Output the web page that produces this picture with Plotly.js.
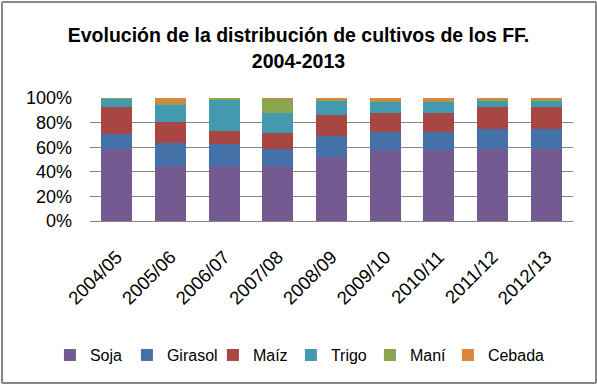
<!DOCTYPE html>
<html><head><meta charset="utf-8">
<script src="https://cdn.plot.ly/plotly-3.0.1.min.js"></script>
<style>
html,body{margin:0;padding:0;background:#fff;}
#wrap{position:relative;width:597px;height:385px;}
#chart{width:597px;height:385px;}
#frame{position:absolute;left:1px;top:1px;width:592px;height:379px;border:2px solid #868686;border-radius:2px;pointer-events:none;}
</style></head>
<body>
<div id="wrap"><div id="chart"></div><div id="frame"></div></div>
<script>
const categories = ["2004/05","2005/06","2006/07","2007/08","2008/09","2009/10","2010/11","2011/12","2012/13"];
const soja    = [58.9, 45.1, 45.1, 45.1, 51.7, 58.1, 58.1, 58.9, 58.9];
const girasol = [11.9, 18.6, 17.8, 13.8, 17.5, 14.0, 14.0, 15.9, 15.9];
const maiz    = [21.5, 16.4, 10.3, 12.7, 16.7, 15.4, 15.4, 17.5, 17.5];
const trigo   = [ 6.6, 14.6, 25.5, 15.9, 11.7,  9.6,  9.6,  5.3,  5.3];
const mani    = [ 1.1,  1.1,  1.3, 11.4,  1.1,  0.4,  0.4,  0.4,  0.4];
const cebada  = [ 0.0,  4.2,  0.0,  1.1,  1.3,  2.5,  2.5,  2.0,  2.0];
const yTicks  = [0, 20, 40, 60, 80, 100];

const series = [
  {name:"Soja", y:soja, color:"#735B91", lw:32},
  {name:"Girasol", y:girasol, color:"#4472A8", lw:41},
  {name:"Maíz", y:maiz, color:"#A84644", lw:33},
  {name:"Trigo", y:trigo, color:"#4299B0", lw:34},
  {name:"Maní", y:mani, color:"#89A54E", lw:33},
  {name:"Cebada", y:cebada, color:"#DB843D", lw:60}
];
const data = series.map(s => ({
  type:"bar", name:s.name, x:categories, y:s.y, legendwidth:s.lw,
  marker:{color:s.color, line:{width:0}}, hoverinfo:"none"
}));
const font = "Liberation Sans, Arial, sans-serif";
const layout = {
  width:597, height:385, barmode:"stack", bargap:0.42,
  paper_bgcolor:"#fff", plot_bgcolor:"#fff",
  margin:{l:90, r:24, t:98, b:161},
  font:{family:font, size:17, color:"#000"},
  title:{text:"<b>Evolución de la distribución de cultivos de los FF.<br>2004-2013</b>",
         font:{family:font, size:19.5, color:"#000"}, x:0.5, xanchor:"center",
         y:0.89, yref:"container", yanchor:"middle"},
  xaxis:{type:"category", tickangle:-45, showgrid:false, showline:true, automargin:false,
         linecolor:"#868686", linewidth:1, ticks:"", tickfont:{size:18.5},
         ticklabelstandoff:17, fixedrange:true},
  yaxis:{range:[0,100], tickvals:yTicks, ticktext:yTicks.map(v=>v+"%"), automargin:false,
         showgrid:true, gridcolor:"#868686", gridwidth:1, zeroline:false,
         showline:false, ticks:"", ticklen:0, tickfont:{size:18},
         ticklabelstandoff:17, fixedrange:true},
  legend:{orientation:"h", x:-0.083, xanchor:"left", y:-1.09, yanchor:"middle",
          font:{size:16}, traceorder:"normal", itemwidth:30,
          entrywidthmode:"pixels"},
  showlegend:true
};
Plotly.newPlot("chart", data, layout, {displayModeBar:false, staticPlot:true});
</script>
</body></html>
